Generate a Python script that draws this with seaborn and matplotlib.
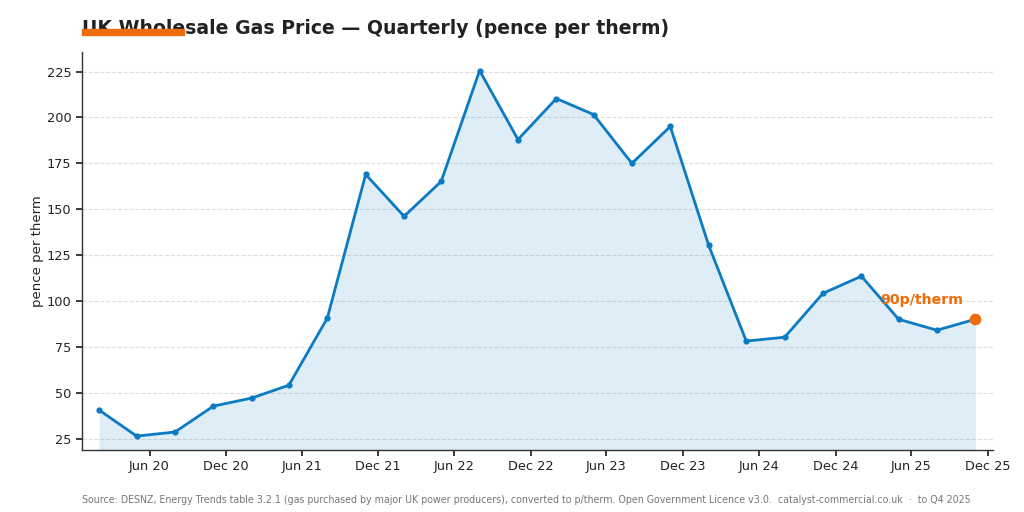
import pandas as pd
import numpy as np
import seaborn as sns
import matplotlib.pyplot as plt
import matplotlib.dates as mdates
from matplotlib.patches import Rectangle

# quarterly data, Q1 2020 .. Q4 2025 (plotted at middle month of each quarter)
quarters = pd.date_range("2020-02-01", "2025-11-01", freq="3MS")
price = [40.8, 26.6, 28.8, 42.9, 47.3, 54.3, 90.8, 169.0, 146.2, 165.2, 225.5, 188.0,
         210.3, 201.6, 175.0, 195.1, 130.4, 78.3, 80.4, 104.3, 113.6, 90.2, 84.2, 90.2]
last_label = "90p/therm"

title = "UK Wholesale Gas Price — Quarterly (pence per therm)"
source = ("Source: DESNZ, Energy Trends table 3.2.1 (gas purchased by major UK power producers), "
          "converted to p/therm. Open Government Licence v3.0.  catalyst-commercial.co.uk  ·  to Q4 2025")

df = pd.DataFrame({"date": quarters, "price": price})

blue = "#0b7bc3"
orange = "#ef6c0c"

sns.set_theme(style="ticks")
plt.rcParams["font.family"] = ["DejaVu Sans"]

fig = plt.figure(figsize=(10.24, 5.12), dpi=100)
ax = fig.add_axes([0.080, 0.121, 0.890, 0.777])

ax.fill_between(df.date, df.price, 0, color=blue, alpha=0.13, linewidth=0)
sns.lineplot(data=df, x="date", y="price", ax=ax, color=blue, linewidth=2,
             marker="o", markersize=4.5, markeredgewidth=0)

# highlight latest quarter
ax.scatter(df.date.iloc[-1], df.price.iloc[-1], s=55, color=orange, zorder=5)
ax.annotate(last_label, (df.date.iloc[-1], df.price.iloc[-1]),
            xytext=(-9, 9), textcoords="offset points", ha="right", va="bottom",
            color=orange, fontsize=10.2, fontweight="bold")

ax.set_ylim(19, 235.5)
ax.set_xlim(pd.Timestamp("2019-12-22"), pd.Timestamp("2025-12-14"))
ax.set_yticks([25, 50, 75, 100, 125, 150, 175, 200, 225])
ax.xaxis.set_major_locator(mdates.MonthLocator(bymonth=(6, 12)))
ax.xaxis.set_major_formatter(mdates.DateFormatter("%b %y"))

ax.yaxis.grid(True, linestyle="--", color="#dddddd", linewidth=0.8)
ax.set_axisbelow(True)
ax.set_xlabel("")
ax.set_ylabel("pence per therm", fontsize=9.5, color="#222222", labelpad=2)
ax.tick_params(axis="both", labelsize=9.3, colors="#222222", length=4)
sns.despine(ax=ax)
for s in ["left", "bottom"]:
    ax.spines[s].set_color("#333333")
    ax.spines[s].set_linewidth(1.0)

fig.text(0.080, 0.945, title, fontsize=13.6, fontweight="bold", color="#222222",
         ha="left", va="center")
fig.add_artist(Rectangle((0.080, 0.931), 0.100, 0.012, transform=fig.transFigure,
                         color=orange, zorder=10))
fig.text(0.080, 0.023, source, fontsize=6.85, color="#777777", ha="left", va="center")

fig.savefig("out.png", dpi=100)
